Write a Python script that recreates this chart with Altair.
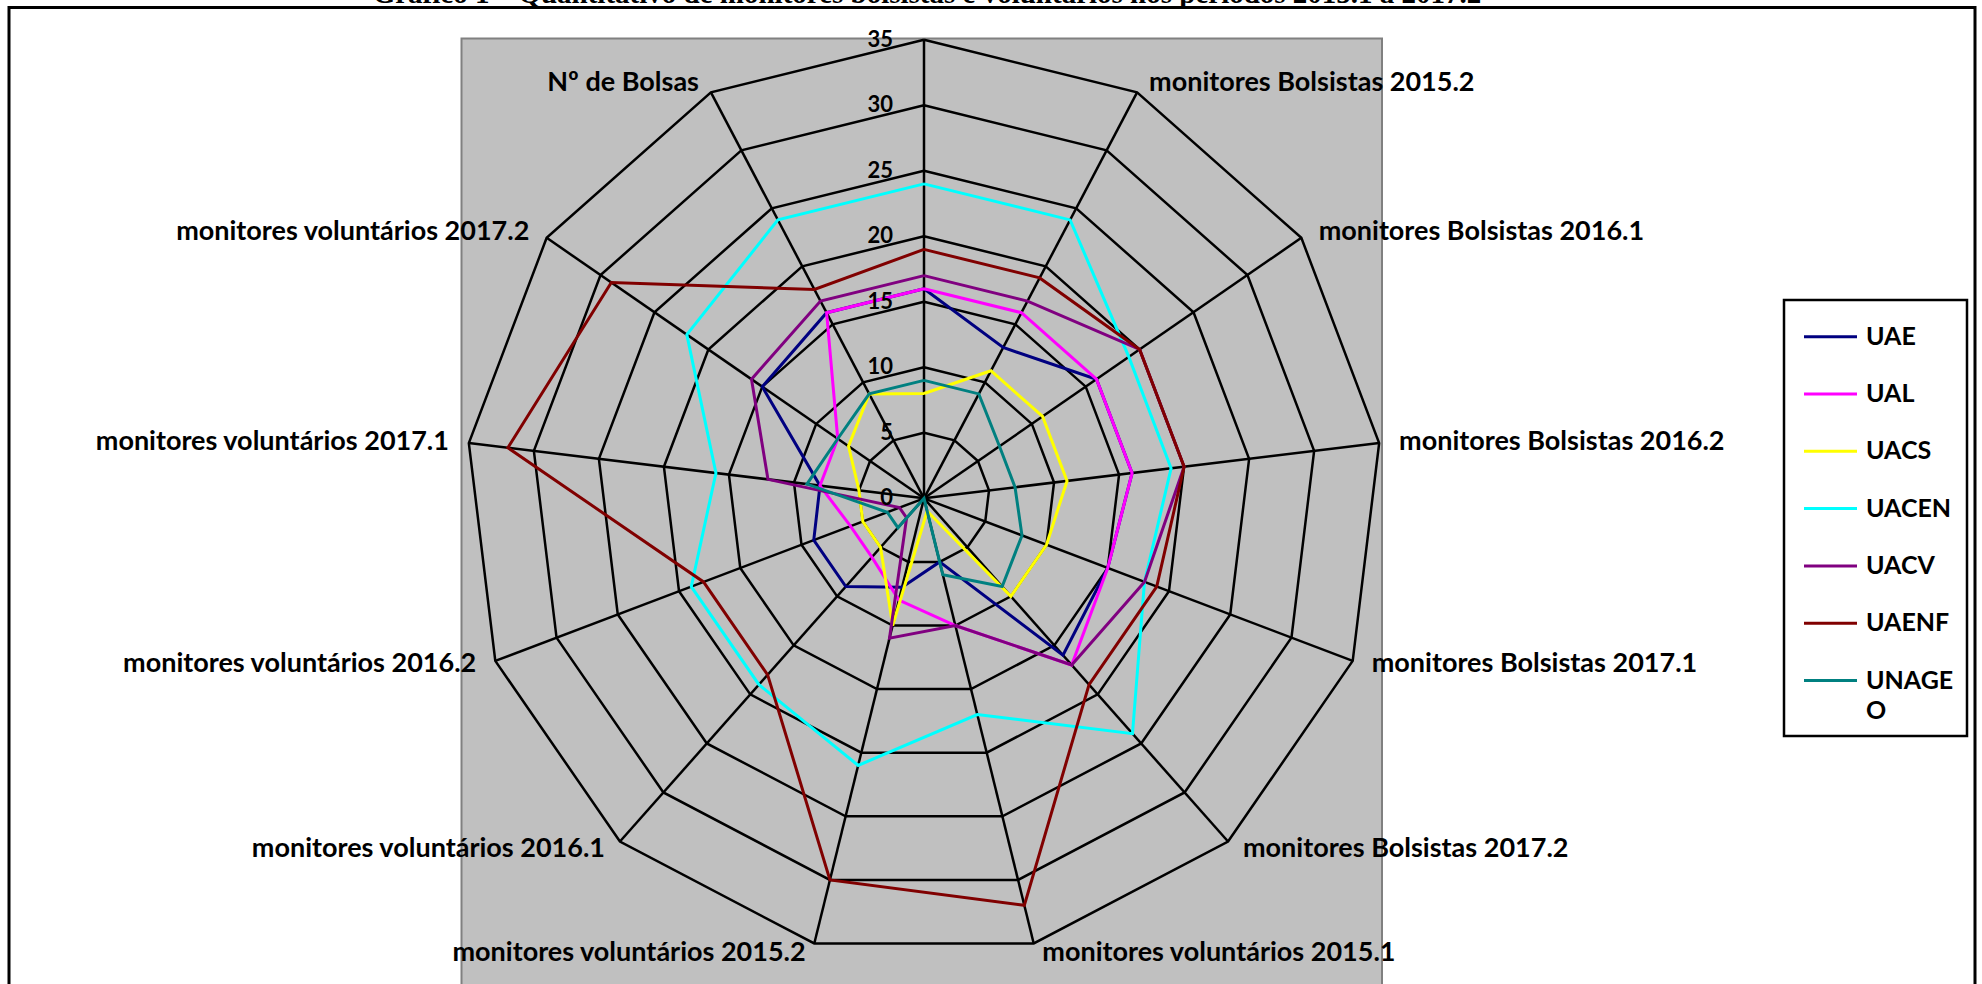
import math
import altair as alt
import pandas as pd

# ---------------- data ----------------
categories = [
    "monitores Bolsistas 2015.1",
    "monitores Bolsistas 2015.2",
    "monitores Bolsistas 2016.1",
    "monitores Bolsistas 2016.2",
    "monitores Bolsistas 2017.1",
    "monitores Bolsistas 2017.2",
    "monitores voluntários 2015.1",
    "monitores voluntários 2015.2",
    "monitores voluntários 2016.1",
    "monitores voluntários 2016.2",
    "monitores voluntários 2017.1",
    "monitores voluntários 2017.2",
    "Nº de Bolsas",
]
label_visible = [False] + [True] * 12

series = ["UAE", "UAL", "UACS", "UACEN", "UACV", "UAENF", "UNAGEO"]
colors = ["#000080", "#FF00FF", "#FFFF00", "#00FFFF", "#800080", "#800000", "#008080"]

uae = [16, 13, 16, 16, 15, 16, 5, 7, 9, 9, 8, 15, 16]
ual = [16, 16, 16, 16, 15, 17, 10, 8, 6, 6, 8, 8, 16]
uacs = [8, 11, 11, 11, 10, 10, 1, 10, 5, 5, 5, 7, 9]
uacen = [24, 24, 19, 19, 18, 24, 17, 21, 19, 19, 16, 22, 24]
uacv = [17, 17, 20, 20, 18, 17, 10, 11, 2, 2, 12, 16, 17]
uaenf = [19, 19, 20, 20, 19, 19, 32, 30, 18, 18, 32, 29, 18]
unageo = [9, 9, 7, 7, 8, 9, 6, 0, 3, 3, 9, 8, 9]
values = [uae, ual, uacs, uacen, uacv, uaenf, unageo]

ticks = [0, 5, 10, 15, 20, 25, 30, 35]
r_max = 35
title_text = "Gráfico 1 – Quantitativo de monitores bolsistas e voluntários nos períodos 2015.1 a 2017.2"

# ---------------- layout ----------------
W, H = 1982, 984
CX, CY = 924.0, 498.3       # pixel centre of the radar
S = 13.1                    # pixels per unit


def ux(px):
    return (px - CX) / S


def uy(py):
    return (CY - py) / S


XS = alt.Scale(domain=[ux(0), ux(W)], nice=False, zero=False)
YS = alt.Scale(domain=[uy(H), uy(0)], nice=False, zero=False)

n = len(categories)
ang = [2 * math.pi * k / n for k in range(n)]


def X(field):
    return alt.X(field, type="quantitative", scale=XS, axis=None)


def Y(field):
    return alt.Y(field, type="quantitative", scale=YS, axis=None)


FONT = "Lato"
layers = []

# outer frame of the chart area
frame = pd.DataFrame([{"x": ux(9), "x2": ux(1975), "y": uy(7.5), "y2": uy(1010)}])
layers.append(
    alt.Chart(frame).mark_rect(fillOpacity=0, stroke="black", strokeWidth=3).encode(
        x=X("x"), x2="x2", y=Y("y"), y2="y2"
    )
)

# grey plot area
plot_bg = pd.DataFrame([{"x": ux(461.5), "x2": ux(1382), "y": uy(38.5), "y2": uy(1010)}])
layers.append(
    alt.Chart(plot_bg).mark_rect(fill="#C0C0C0", stroke="#808080", strokeWidth=2).encode(
        x=X("x"), x2="x2", y=Y("y"), y2="y2"
    )
)

# grid rings
ring_rows = []
for t in ticks[1:]:
    for k in range(n + 1):
        a = ang[k % n]
        ring_rows.append({"ring": t, "k": k, "x": t * math.sin(a), "y": t * math.cos(a)})
rings = pd.DataFrame(ring_rows)
layers.append(
    alt.Chart(rings).mark_line(color="black", strokeWidth=2.5).encode(
        x=X("x"), y=Y("y"), detail="ring:N", order="k:Q"
    )
)

# spokes
spoke_rows = [
    {"x": 0.0, "y": 0.0, "x2": r_max * math.sin(a), "y2": r_max * math.cos(a)} for a in ang
]
spokes = pd.DataFrame(spoke_rows)
layers.append(
    alt.Chart(spokes).mark_rule(color="black", strokeWidth=2.5).encode(
        x=X("x"), y=Y("y"), x2="x2", y2="y2"
    )
)

# series lines (drawn in order, later on top)
ser_rows = []
for name, vals in zip(series, values):
    for k in range(n + 1):
        a = ang[k % n]
        v = vals[k % n]
        ser_rows.append({"serie": name, "k": k, "v": v, "x": v * math.sin(a), "y": v * math.cos(a)})
ser_df = pd.DataFrame(ser_rows)
for name, col in zip(series, colors):
    layers.append(
        alt.Chart(ser_df)
        .transform_filter(alt.datum.serie == name)
        .mark_line(color=col, strokeWidth=3, strokeJoin="miter")
        .encode(x=X("x"), y=Y("y"), order="k:Q")
    )

# radial scale labels
tick_df = pd.DataFrame({"t": ticks, "x": [ux(CX - 31)] * len(ticks), "y": ticks})
layers.append(
    alt.Chart(tick_df).mark_text(
        align="right", baseline="middle", font=FONT, fontWeight="bold", fontSize=22, color="black"
    ).encode(x=X("x"), y=Y("y"), text="t:Q")
)

# category labels
lab_rows = []
for k, (cat, vis) in enumerate(zip(categories, label_visible)):
    if not vis:
        continue
    a = ang[k]
    sn, cs = math.sin(a), math.cos(a)
    sg = 1 if sn > 0 else -1
    lab_rows.append({
        "cat": cat,
        "x": r_max * sn + sg * (5 + 15 * abs(sn)) / S,
        "y": r_max * cs + 10 * cs / S,
        "side": "left" if sg > 0 else "right",
    })
lab_df = pd.DataFrame(lab_rows)
for side in ["left", "right"]:
    layers.append(
        alt.Chart(lab_df)
        .transform_filter(alt.datum.side == side)
        .mark_text(align=side, baseline="middle", font=FONT, fontWeight="bold", fontSize=27, color="black")
        .encode(x=X("x"), y=Y("y"), text="cat:N")
    )

# title (cut off at the top edge, as in the source)
title_df = pd.DataFrame([{"txt": title_text, "x": ux(927), "y": uy(3)}])
layers.append(
    alt.Chart(title_df).mark_text(
        align="center", baseline="alphabetic", font="Liberation Serif", fontWeight="bold",
        fontSize=29, color="black"
    ).encode(x=X("x"), y=Y("y"), text="txt:N")
)

# legend
LX0, LX1, LY0, LY1 = 1784, 1967, 300, 736
row0, step = 336.7, 57.3
leg_box = pd.DataFrame([{"x": ux(LX0), "x2": ux(LX1), "y": uy(LY0), "y2": uy(LY1)}])
layers.append(
    alt.Chart(leg_box).mark_rect(fill="white", stroke="black", strokeWidth=2.5).encode(
        x=X("x"), x2="x2", y=Y("y"), y2="y2"
    )
)
sym_rows, txt_rows = [], []
for i, (name, col) in enumerate(zip(series, colors)):
    yy = row0 + step * i
    sym_rows.append({"serie": name, "x": ux(1804), "x2": ux(1857), "y": uy(yy)})
    chunks = [name[j:j + 5] for j in range(0, len(name), 5)]
    for li, ch in enumerate(chunks):
        txt_rows.append({"txt": ch, "x": ux(1866), "y": uy(yy + 30 * li)})
sym_df = pd.DataFrame(sym_rows)
layers.append(
    alt.Chart(sym_df).mark_rule(strokeWidth=3).encode(
        x=X("x"), x2="x2", y=Y("y"),
        color=alt.Color("serie:N", scale=alt.Scale(domain=series, range=colors), legend=None),
    )
)
txt_df = pd.DataFrame(txt_rows)
layers.append(
    alt.Chart(txt_df).mark_text(
        align="left", baseline="middle", font=FONT, fontWeight="bold", fontSize=25, color="black"
    ).encode(x=X("x"), y=Y("y"), text="txt:N")
)

chart = (
    alt.layer(*layers)
    .properties(width=W, height=H, padding=0, autosize=alt.AutoSizeParams(type="none"), background="white")
    .configure_view(stroke=None)
)

chart.save("out.html", embed_options={"renderer": "svg", "actions": False})
